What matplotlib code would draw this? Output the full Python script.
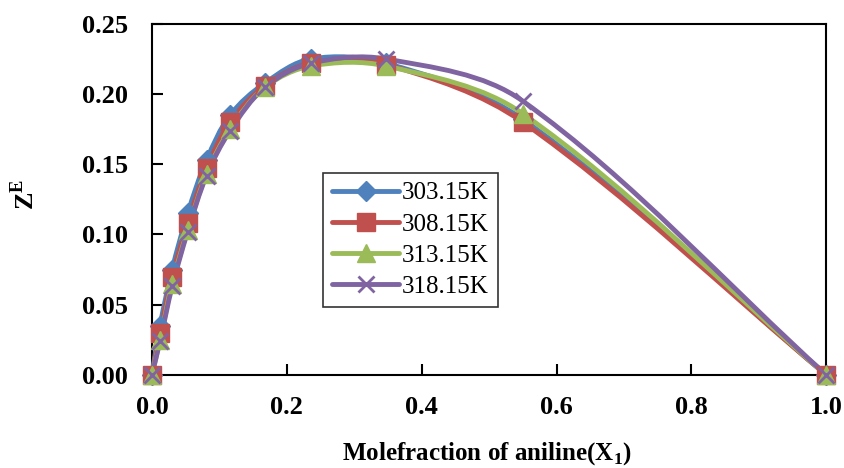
import numpy as np
import matplotlib
matplotlib.use("Agg")
import matplotlib.pyplot as plt
from matplotlib.path import Path
from matplotlib.patches import PathPatch
from matplotlib.lines import Line2D

plt.rcParams['font.family'] = ['Liberation Serif', 'DejaVu Serif']
plt.rcParams['mathtext.fontset'] = 'custom'
plt.rcParams['mathtext.rm'] = 'Liberation Serif'
plt.rcParams['mathtext.bf'] = 'Liberation Serif:bold'

x1 = [0.0, 0.012, 0.03, 0.053, 0.081, 0.116, 0.168, 0.236, 0.347, 0.55, 1.0]
z303 = [0.0, 0.035, 0.075, 0.115, 0.153, 0.185, 0.208, 0.225, 0.222, 0.182, 0.0]
z308 = [0.0, 0.030, 0.070, 0.108, 0.147, 0.180, 0.206, 0.222, 0.221, 0.180, 0.0]
z313 = [0.0, 0.025, 0.065, 0.103, 0.143, 0.175, 0.205, 0.220, 0.220, 0.186, 0.0]
z318 = [0.0, 0.024, 0.063, 0.102, 0.142, 0.174, 0.205, 0.222, 0.225, 0.195, 0.0]

labels = ['303.15K', '308.15K', '313.15K', '318.15K']
colors = ['#4F81BD', '#C0504D', '#9BBB59', '#8064A2']
markers = ['D', 's', '^', 'x']
msizes = [10, 13, 13, 12]


def smooth_path(x, y, sx=674.0, sy=1404.0):
    # smoothed line as cubic Bezier segments, tangents worked out in pixel space
    p = np.column_stack([np.asarray(x) * sx, np.asarray(y) * sy])
    n = len(p)
    tang = []
    for i in range(n):
        a = p[max(i - 1, 0)]
        b = p[min(i + 1, n - 1)]
        d = b - a
        tang.append(d / np.hypot(*d))
    verts = [p[0]]
    codes = [Path.MOVETO]
    for i in range(n - 1):
        L = np.hypot(*(p[i + 1] - p[i]))
        c1 = p[i] + tang[i] * L / 3
        c2 = p[i + 1] - tang[i + 1] * L / 3
        verts += [c1, c2, p[i + 1]]
        codes += [Path.CURVE4] * 3
    verts = np.array(verts) / [sx, sy]
    return Path(verts, codes)


fig, ax = plt.subplots(figsize=(8.44, 4.68), dpi=100)
fig.subplots_adjust(left=0.18, right=0.979, top=0.949, bottom=0.199)

handles = []
for ys, lab, c, m, ms in zip([z303, z308, z313, z318], labels, colors, markers, msizes):
    ax.add_patch(PathPatch(smooth_path(x1, ys), fill=False, edgecolor=c, lw=3.5,
                           capstyle='round', clip_on=False, zorder=3))
    mew = 2 if m == 'x' else 1
    ax.plot(x1, ys, linestyle='none', marker=m, color=c, ms=ms, mew=mew,
            clip_on=False, zorder=4)
    handles.append(Line2D([], [], color=c, lw=3.5, marker=m, ms=ms, mew=mew,
                          solid_capstyle='round'))

ax.set_xlim(0, 1.0)
ax.set_ylim(0, 0.25)
ax.set_xticks(np.arange(0, 1.01, 0.2))
ax.set_yticks(np.arange(0, 0.251, 0.05))
ax.set_xticklabels([f'{v:.1f}' for v in np.arange(0, 1.01, 0.2)])
ax.set_yticklabels([f'{v:.2f}' for v in np.arange(0, 0.251, 0.05)])
ax.tick_params(direction='in', length=8, width=1.5, labelsize=19)
ax.tick_params(axis='y', pad=17)
ax.tick_params(axis='x', pad=15)
for lbl in ax.get_xticklabels() + ax.get_yticklabels():
    lbl.set_fontweight('bold')
for s in ax.spines.values():
    s.set_linewidth(1.5)

ax.set_xlabel(r'Molefraction of aniline(X$_\mathbf{1}$)', fontsize=18,
              fontweight='bold')
ax.set_ylabel(r'Z$^\mathbf{E}$', fontsize=19, fontweight='bold')
ax.xaxis.set_label_coords(0.497, -0.187)
ax.yaxis.set_label_coords(-0.168, 0.513)

leg = ax.legend(handles, labels, loc='lower left', bbox_to_anchor=(0.254, 0.194),
                fontsize=18, frameon=True, fancybox=False, handlelength=2.7,
                handletextpad=0.1, borderpad=0.35, labelspacing=0.35,
                borderaxespad=0)
leg.get_frame().set_edgecolor('black')
leg.get_frame().set_linewidth(1.2)

fig.savefig('out.png', dpi=100)
